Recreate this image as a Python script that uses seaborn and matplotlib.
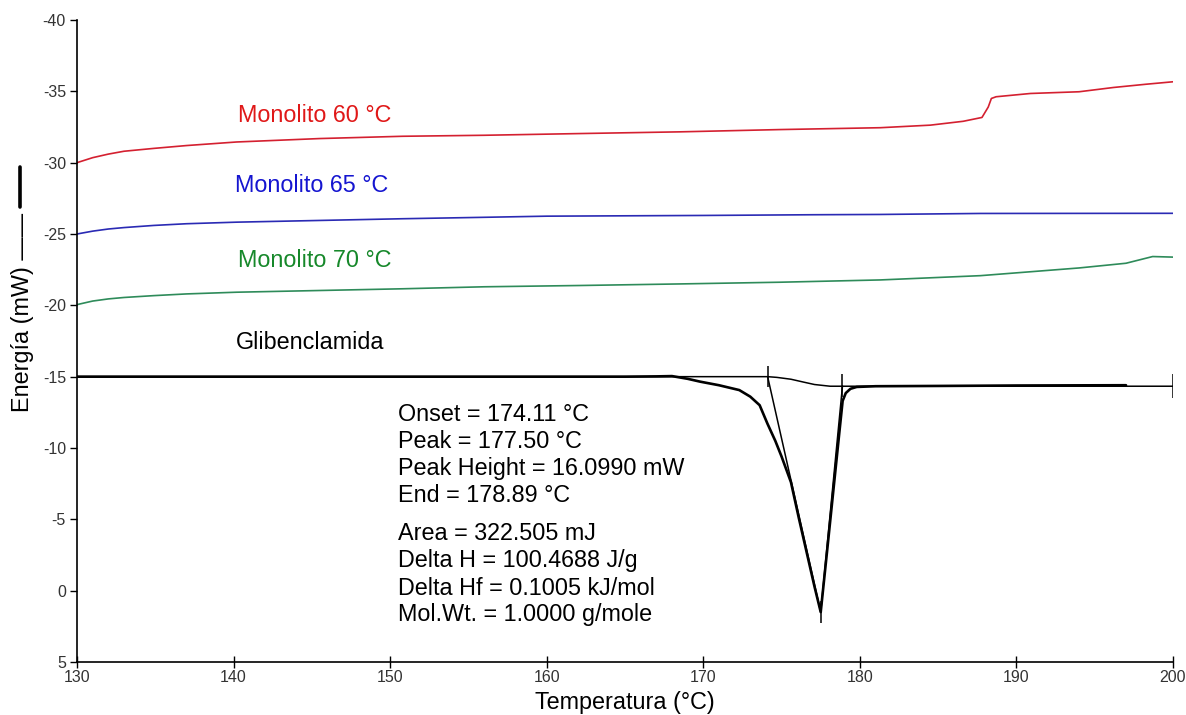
import matplotlib
matplotlib.use("Agg")
import matplotlib.pyplot as plt
from matplotlib.lines import Line2D
import seaborn as sns
import pandas as pd

# ---------------- data ----------------
temp_60 = [130, 131, 132, 133, 134.9, 137, 140.2, 145.5, 150.8, 156.0, 162.1, 168.5,
           174.9, 181.3, 184.5, 186.6, 187.8, 188.2, 188.4, 188.7, 190.9, 194.0,
           196.2, 198.3, 200]
energy_60 = [-30.0, -30.35, -30.6, -30.8, -31.0, -31.2, -31.45, -31.69, -31.85, -31.92,
             -32.04, -32.16, -32.32, -32.45, -32.63, -32.9, -33.17, -33.9, -34.5,
             -34.62, -34.85, -34.97, -35.27, -35.5, -35.67]

temp_65 = [130, 131, 132, 133, 134.9, 137, 140.2, 145.5, 150.8, 156.0, 160, 170,
           177, 181.3, 187.7, 200]
energy_65 = [-25.0, -25.2, -25.35, -25.45, -25.6, -25.72, -25.83, -25.95, -26.07,
             -26.17, -26.25, -26.3, -26.35, -26.37, -26.44, -26.45]

temp_70 = [130, 131, 132, 133, 134.9, 137, 140.2, 145.5, 150.8, 156.0, 162.1, 168.5,
           174.9, 181.3, 187.7, 194.0, 197.0, 198.7, 200]
energy_70 = [-20.05, -20.3, -20.45, -20.55, -20.68, -20.8, -20.92, -21.04, -21.16,
             -21.3, -21.39, -21.5, -21.62, -21.78, -22.08, -22.62, -22.95, -23.42,
             -23.38]

temp_gli = [130, 140, 150, 160, 165, 167, 168, 169, 169.8, 171, 172.3, 173.0, 173.6,
            174.1, 174.6, 175.0, 175.6, 176.1, 176.6, 177.1, 177.5, 177.9, 178.3,
            178.7, 178.9, 179.1, 179.4, 179.8, 181, 185, 190, 197]
energy_gli = [-15.0, -15.0, -15.0, -15.0, -15.0, -15.02, -15.04, -14.85, -14.65,
              -14.4, -14.06, -13.6, -13.0, -11.7, -10.5, -9.4, -7.6, -5.1, -2.7,
              -0.3, 1.5, -2.7, -6.95, -11.2, -13.3, -13.85, -14.15, -14.28, -14.33,
              -14.35, -14.38, -14.4]

# integration baseline and tangent construction
base_temp = [130, 174.11, 174.7, 175.6, 176.4, 177.1, 178.1, 200]
base_energy = [-15.0, -15.0, -14.95, -14.82, -14.62, -14.45, -14.33, -14.33]
tangent_temp = [174.11, 177.5, 178.89]
tangent_energy = [-15.0, 1.5, -14.35]
marker_temp = [174.11, 177.5, 178.89, 200]
marker_low = [-15.75, 0.7, -15.2, -15.2]
marker_high = [-14.3, 2.3, -13.6, -13.5]

series_labels = ["Monolito 60 °C", "Monolito 65 °C", "Monolito 70 °C", "Glibenclamida"]
label_x = [140.28, 140.09, 140.28, 140.15]
label_y = [-32.88, -27.94, -22.68, -16.94]

results = ["Onset = 174.11 °C", "Peak = 177.50 °C", "Peak Height = 16.0990 mW",
           "End = 178.89 °C", "Area = 322.505 mJ", "Delta H = 100.4688 J/g",
           "Delta Hf = 0.1005 kJ/mol", "Mol.Wt. = 1.0000 g/mole"]
results_x = 150.5
results_y = [-11.88, -9.99, -8.09, -6.19, -3.53, -1.63, 0.27, 2.16]

x_ticks = list(range(130, 201, 10))
y_ticks = list(range(-40, 6, 5))

# ---------------- styling ----------------
sns.set_theme(style="white")
plt.rcParams["font.family"] = ["Liberation Sans", "DejaVu Sans"]
plt.rcParams["axes.unicode_minus"] = False

line_colors = ["#d42030", "#2a2ab4", "#2e8b5a", "black"]
text_colors = ["#e01818", "#1515d0", "#16882a", "black"]

fig = plt.figure(figsize=(11.86, 7.15), dpi=100)
ax = fig.add_axes([77 / 1186, 53 / 715, 1096 / 1186, 642 / 715])

frames = [
    pd.DataFrame({"T": temp_60, "E": energy_60}),
    pd.DataFrame({"T": temp_65, "E": energy_65}),
    pd.DataFrame({"T": temp_70, "E": energy_70}),
]
for df, c in zip(frames, line_colors[:3]):
    sns.lineplot(data=df, x="T", y="E", ax=ax, color=c, linewidth=1.2,
                 sort=False, estimator=None)

sns.lineplot(x=base_temp, y=base_energy, ax=ax, color="black", linewidth=1.1,
             sort=False, estimator=None)
sns.lineplot(x=tangent_temp, y=tangent_energy, ax=ax, color="black", linewidth=1.1,
             sort=False, estimator=None)
sns.lineplot(x=temp_gli, y=energy_gli, ax=ax, color="black", linewidth=1.9,
             sort=False, estimator=None)
ax.vlines(marker_temp, marker_low, marker_high, colors="black", linewidth=1.1)

for s, x, y, c in zip(series_labels, label_x, label_y, text_colors):
    ax.text(x, y, s, color=c, fontsize=16.8, ha="left", va="baseline")

for s, y in zip(results, results_y):
    ax.text(results_x, y, s, color="black", fontsize=16.8, ha="left", va="baseline")

ax.set_xlim(130, 200)
ax.set_ylim(5, -40)
ax.set_xticks(x_ticks)
ax.set_yticks(y_ticks)
ax.tick_params(axis="both", labelsize=11.5, labelcolor="#333333", colors="black")
ax.tick_params(axis="y", direction="out", length=5, width=1, pad=3, left=True)
ax.tick_params(axis="x", direction="inout", length=8, width=1, pad=2, bottom=True)

for side in ["top", "right"]:
    ax.spines[side].set_visible(False)
for side in ["left", "bottom"]:
    ax.spines[side].set_color("black")
    ax.spines[side].set_linewidth(1.2)

ax.set_xlabel("Temperatura (°C)", fontsize=16.8, color="black")
ax.xaxis.label.set_va("baseline")
ax.xaxis.set_label_coords(0.5, (662 - 709) / 642)

ax.set_ylabel("Energía (mW) ——", fontsize=16.8, color="black")
ax.yaxis.label.set_ha("left")
ax.yaxis.label.set_va("center")
ax.yaxis.set_label_coords((22 - 77) / 1096, (662 - 412) / 642)

fig.add_artist(Line2D([20 / 1186, 20 / 1186], [1 - 207 / 715, 1 - 167 / 715],
                      transform=fig.transFigure, color="black", linewidth=2.6))

fig.savefig("out.png", dpi=100)
